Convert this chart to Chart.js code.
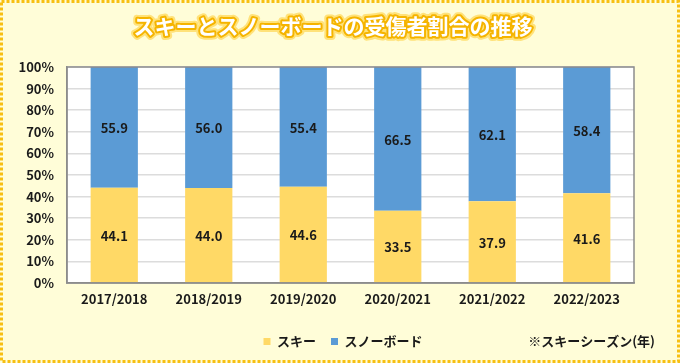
<!DOCTYPE html>
<html><head><meta charset="utf-8">
<script src="https://cdn.jsdelivr.net/npm/chart.js@4/dist/chart.umd.min.js"></script>
<style>html,body{margin:0;padding:0;background:#fffdd8;}#wrap{width:680px;height:363px;}</style>
</head><body><div id="wrap"><canvas id="c" width="680" height="363"></canvas></div>
<script>
const categories = ["2017/2018","2018/2019","2019/2020","2020/2021","2021/2022","2022/2023"];
const skiValues = [44.1, 44.0, 44.6, 33.5, 37.9, 41.6];
const snowValues = [55.9, 56.0, 55.4, 66.5, 62.1, 58.4];
const seriesNames = ["スキー","スノーボード"];
const titleText = "スキーとスノーボードの受傷者割合の推移";
const noteText = "※スキーシーズン(年)";
const FONT = '"Noto Sans CJK JP", "Noto Sans", sans-serif';

const deco = {
  id: 'deco',
  afterLayout(chart) {
    const lg = chart.legend;
    if (lg) { lg.left += 21; lg.right += 21; }
  },
  beforeDraw(chart) {
    const {ctx, width, height, chartArea: a} = chart;
    ctx.save();
    ctx.fillStyle = '#fffdd8';
    ctx.fillRect(0, 0, width, height);
    ctx.strokeStyle = '#f7bf12';
    ctx.lineWidth = 3;
    ctx.setLineDash([3, 2]);
    ctx.strokeRect(1.5, 1.5, width - 3, height - 3);
    ctx.setLineDash([]);
    ctx.fillStyle = '#ffffff';
    ctx.fillRect(a.left, a.top, a.right - a.left, a.bottom - a.top);
    // title
    ctx.font = 'bold 21px ' + FONT;
    ctx.textAlign = 'center';
    ctx.textBaseline = 'middle';
    ctx.lineJoin = 'round';
    ctx.strokeStyle = '#ffe27a';
    ctx.lineWidth = 8;
    ctx.strokeText(titleText, 333, 26);
    ctx.strokeStyle = '#f5b400';
    ctx.lineWidth = 4;
    ctx.strokeText(titleText, 333, 26);
    ctx.fillStyle = '#ffffff';
    ctx.fillText(titleText, 333, 26);
    ctx.restore();
  },
  afterDatasetsDraw(chart) {
    const {ctx, chartArea: a} = chart;
    ctx.save();
    ctx.font = 'bold 13px ' + FONT;
    ctx.fillStyle = '#1a1a1a';
    ctx.textAlign = 'center';
    ctx.textBaseline = 'middle';
    chart.data.datasets.forEach((ds, di) => {
      chart.getDatasetMeta(di).data.forEach((el, i) => {
        ctx.fillText(ds.data[i].toFixed(1), el.x, (el.y + el.base) / 2 + 1);
      });
    });
    ctx.strokeStyle = '#8c8c8c';
    ctx.lineWidth = 1.5;
    ctx.strokeRect(a.left, a.top, a.right - a.left, a.bottom - a.top);
    ctx.restore();
  },
  afterDraw(chart) {
    const {ctx} = chart;
    ctx.save();
    ctx.font = 'bold 13px ' + FONT;
    ctx.fillStyle = '#1a1a1a';
    ctx.textAlign = 'right';
    ctx.textBaseline = 'middle';
    ctx.fillText(noteText, 655, 341);
    ctx.restore();
  }
};

new Chart(document.getElementById('c'), {
  type: 'bar',
  data: {
    labels: categories,
    datasets: [
      {label: seriesNames[0], data: skiValues, backgroundColor: '#ffd966', barPercentage: 0.5, categoryPercentage: 1},
      {label: seriesNames[1], data: snowValues, backgroundColor: '#5b9bd5', barPercentage: 0.5, categoryPercentage: 1}
    ]
  },
  options: {
    responsive: false,
    animation: false,
    layout: {padding: {top: 67, right: 46, left: 10, bottom: 5}},
    plugins: {
      title: {display: false},
      tooltip: {enabled: false},
      legend: {
        position: 'bottom',
        labels: {boxWidth: 7, boxHeight: 7, padding: 15, color: '#1a1a1a', font: {family: FONT, size: 13, weight: 'bold'}}
      }
    },
    scales: {
      x: {
        stacked: true,
        grid: {display: false},
        border: {color: '#8c8c8c', width: 1.5},
        ticks: {color: '#1a1a1a', padding: 0, font: {family: FONT, size: 13, weight: 'bold'}},
        afterFit(s) { s.height = 37; }
      },
      y: {
        stacked: true,
        min: 0, max: 100,
        grid: {color: '#dcdcdc', lineWidth: 1.5, drawTicks: false},
        border: {color: '#8c8c8c', width: 1.5},
        ticks: {stepSize: 10, padding: 13, color: '#1a1a1a', font: {family: FONT, size: 13, weight: 'bold'}, callback: v => v + '%'},
        afterFit(s) { s.width = 57; }
      }
    }
  },
  plugins: [deco]
});
</script></body></html>
